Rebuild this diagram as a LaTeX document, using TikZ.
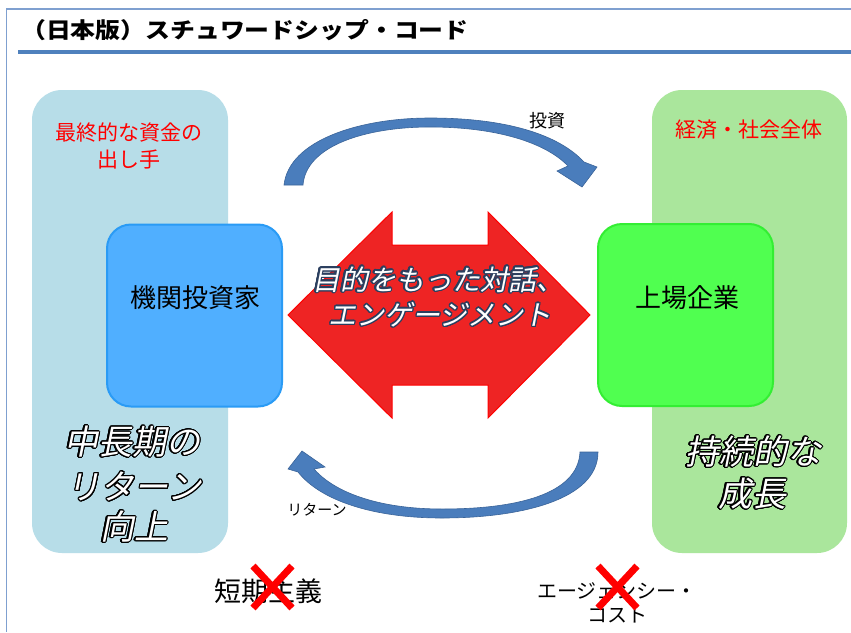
\documentclass[tikz,border=0pt]{standalone}
\usepackage{fontspec}
\setmainfont{Noto Sans CJK JP}
\newfontfamily\jp{Noto Sans CJK JP}
\newfontfamily\jpit{Noto Sans CJK JP}[FakeSlant=0.2]
\usepackage[copies]{contour}
\contournumber{24}
\definecolor{framec}{HTML}{7FA0D0}
\definecolor{rulec}{HTML}{4F81BD}
\definecolor{lpanel}{HTML}{B7DDE8}
\definecolor{rpanel}{HTML}{AAE69C}
\definecolor{bbox}{HTML}{50AFFF}
\definecolor{bboxd}{HTML}{2A9BF5}
\definecolor{gbox}{HTML}{50FF50}
\definecolor{gboxd}{HTML}{33EE33}
\definecolor{redarrow}{HTML}{EE2424}
\definecolor{curvec}{HTML}{4A7DBC}
\definecolor{curved}{HTML}{3A6499}
\definecolor{navy}{HTML}{2B3F5F}
\tikzset{
  panel/.style={rectangle, rounded corners=30pt, inner sep=0pt, minimum width=196pt, minimum height=463pt},
  actor/.style={rectangle, rounded corners=24pt, inner sep=0pt, minimum width=175pt, minimum height=182pt, line width=2pt},
  redtxt/.style={text=red, font=\jp\fontsize{21}{26}\selectfont, inner sep=0pt},
  bigit/.style={text=white, font=\jpit\fontsize{34}{40}\selectfont, inner sep=0pt},
  arrowtxt/.style={text=white, font=\jpit\fontsize{28}{32}\selectfont, inner sep=0pt},
  lbl/.style={text=black, font=\jp\fontsize{26}{30}\selectfont, inner sep=0pt},
  small/.style={text=black, font=\jp\fontsize{15}{18}\selectfont, inner sep=0pt},
  bottomtxt/.style={text=black, font=\jp\fontsize{20}{24}\selectfont, inner sep=0pt},
  curvearrow/.style={fill=curvec, draw=curved, line width=0.6pt},
  xmark/.style={draw=red, line width=7pt},
}
\begin{document}
\begin{tikzpicture}[x=1pt,y=-1pt]
\useasboundingbox (0,0) rectangle (851,632);
\fill[white] (0,0) rectangle (851,632);
% frame and title
\draw[framec, line width=1.6pt] (851,9) -- (6.5,9) -- (6.5,632);
\node[anchor=west, inner sep=0pt, font=\jp\bfseries\fontsize{22}{26}\selectfont] (title) at (21,30)
  {\scalebox{1.13}[1]{（日本版）スチュワードシップ・コード}};
\draw[rulec, line width=4pt] (18,52) -- (851,52);

% panels
\node[panel, fill=lpanel] (lpanel) at (130,321.5) {};
\node[panel, fill=rpanel, minimum width=195pt] (rpanel) at (749.5,321.5) {};

\node[redtxt] (lt1) at (129,133) {最終的な資金の};
\node[redtxt] (lt2) at (129,160) {出し手};
\node[redtxt] (rt1) at (749,130) {経済・社会全体};

% actor boxes
\node[actor, fill=bbox, draw=bboxd] (inv) at (194.5,315.5) {};
\node[lbl] (invl) at (195,298) {機関投資家};
\node[actor, fill=gbox, draw=gboxd] (corp) at (685.5,315) {};
\node[lbl] (corpl) at (687,298) {上場企業};

% red double arrow
\filldraw[fill=redarrow, draw=red, line width=1pt]
  (288,315) -- (392,212) -- (392,245) -- (488,245) -- (488,212) -- (590,315)
  -- (488,418) -- (488,385) -- (392,385) -- (392,418) -- cycle;
\node[arrowtxt] (dlg1) at (438,280) {\contourlength{1.2pt}\contour{navy}{目的をもった対話、}};
\node[arrowtxt] (dlg2) at (440,315) {\contourlength{1.2pt}\contour{navy}{エンゲージメント}};

% top curved arrow (investment)
\path[curvearrow]
  (284,185) .. controls (289,140) and (360,118) .. (430,118)
  .. controls (505,118) and (558,134) .. (584,162)
  -- (597,167) -- (582,187) -- (557,171) -- (568,166)
  .. controls (545,142) and (495,127) .. (430,127)
  .. controls (365,127) and (306,146) .. (303,185) -- cycle;
\node[small, font=\jp\fontsize{18}{20}\selectfont] (invest) at (547,121) {投資};

% bottom curved arrow (return)
\path[curvearrow]
  (598,452) .. controls (598,500) and (520,518) .. (442,518)
  .. controls (372,518) and (320,500) .. (298,472)
  -- (288,469) -- (302,451) -- (325,467) -- (314,469)
  .. controls (336,494) and (382,509) .. (442,509)
  .. controls (515,509) and (578,495) .. (580,452) -- cycle;
\node[small] (ret) at (317,510) {リターン};

% big italic outlined texts
\node[bigit] (lb1) at (132,442) {\contourlength{1.1pt}\contour{black}{中長期の}};
\node[bigit] (lb2) at (134,487) {\contourlength{1.1pt}\contour{black}{リターン}};
\node[bigit] (lb3) at (134,527) {\contourlength{1.1pt}\contour{black}{向上}};
\node[bigit] (rb1) at (753,452) {\contourlength{1.1pt}\contour{black}{持続的な}};
\node[bigit] (rb2) at (752,494) {\contourlength{1.1pt}\contour{black}{成長}};

% bottom texts with crosses
\node[bottomtxt, font=\jp\fontsize{27}{30}\selectfont] (short) at (268,591) {短期主義};
\draw[xmark] (253,566) -- (292,608) (292,566) -- (253,608);
\node[bottomtxt] (agency1) at (617,591) {エージェンシー・};
\node[bottomtxt] (agency2) at (617,615) {コスト};
\draw[xmark] (598,566) -- (637,608) (637,566) -- (598,608);
\end{tikzpicture}
\end{document}
